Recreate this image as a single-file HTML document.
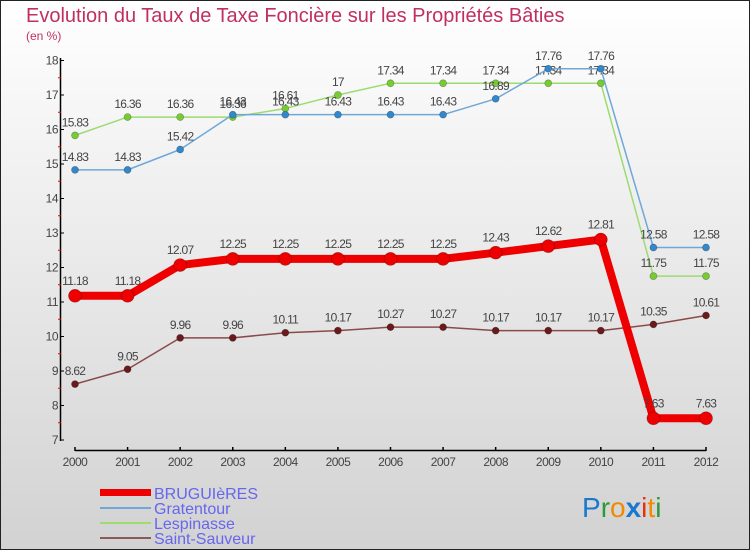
<!DOCTYPE html>
<html><head><meta charset="utf-8"><style>
html,body{margin:0;padding:0}
body{width:750px;height:550px;overflow:hidden;font-family:"Liberation Sans",sans-serif}
</style></head><body>
<svg width="750" height="550" xmlns="http://www.w3.org/2000/svg">
<defs><linearGradient id="bg" x1="0" y1="0" x2="0" y2="1"><stop offset="0" stop-color="#ffffff"/><stop offset="1" stop-color="#d2d2d2"/></linearGradient></defs>
<rect x="0.5" y="0.5" width="749" height="549" fill="url(#bg)" stroke="#222"/>
<text x="26" y="22" font-size="20" fill="#c0305f">Evolution du Taux de Taxe Foncière sur les Propriétés Bâties</text>
<text x="26" y="40" font-size="12" fill="#c0305f">(en %)</text>
<g id="axes"></g>
<g id="series"></g>
<g id="legend" font-size="16" fill="#6666ee">
<rect x="100" y="489" width="51" height="7" fill="#ee0000"/>
<text x="154" y="499">BRUGUIèRES</text>
<rect x="100" y="507" width="51" height="2" fill="#6fa8d8"/>
<text x="154" y="514">Gratentour</text>
<rect x="100" y="522" width="51" height="2" fill="#9cdc70"/>
<text x="154" y="529">Lespinasse</text>
<rect x="100" y="537" width="51" height="2" fill="#8a5a5a"/>
<text x="154" y="544">Saint-Sauveur</text>
</g>
<g font-size="28" font-family="'Liberation Sans',sans-serif">
<text x="582" y="517"><tspan fill="#1a78d0">P</tspan><tspan fill="#2a9a3a">r</tspan><tspan fill="#f08a00">o</tspan><tspan fill="#1a78d0" font-weight="bold">x</tspan><tspan fill="#e83010">i</tspan><tspan fill="#f08a00">t</tspan><tspan fill="#2a9a3a">i</tspan></text>
</g>
</svg>
<script>
const years=["2000","2001","2002","2003","2004","2005","2006","2007","2008","2009","2010","2011","2012"];
const yTicks=[7,8,9,10,11,12,13,14,15,16,17,18];
const bruguieres=[11.18,11.18,12.07,12.25,12.25,12.25,12.25,12.25,12.43,12.62,12.81,7.63,7.63];
const gratentour=[14.83,14.83,15.42,16.43,16.43,16.43,16.43,16.43,16.89,17.76,17.76,12.58,12.58];
const lespinasse=[15.83,16.36,16.36,16.36,16.61,17,17.34,17.34,17.34,17.34,17.34,11.75,11.75];
const saintSauveur=[8.62,9.05,9.96,9.96,10.11,10.17,10.27,10.27,10.17,10.17,10.17,10.35,10.61];
const NS="http://www.w3.org/2000/svg";
const x=i=>75+i*(706-75)/12;
const y=v=>440-(v-7)*(440-60.5)/11;
function mk(tag,attrs,parent){const e=document.createElementNS(NS,tag);for(const k in attrs)e.setAttribute(k,attrs[k]);parent.appendChild(e);return e;}
const ax=document.getElementById('axes');
let a=mk('line',{x1:60.5,y1:58,x2:60.5,y2:441,stroke:'#000','stroke-width':1.5},ax);


a=mk('line',{x1:75,y1:450.5,x2:706,y2:450.5,stroke:'#000','stroke-width':1.5},ax);


yTicks.forEach(v=>{
  mk('line',{x1:60,y1:y(v),x2:64,y2:y(v),stroke:'#000'},ax);
  if(v<18) mk('line',{x1:58,y1:y(v+0.5),x2:61,y2:y(v+0.5),stroke:'#e00'},ax);
  const t=mk('text',{x:58,y:y(v)+4,'font-size':12,fill:'#444','text-anchor':'end','letter-spacing':'-0.5'},ax);
  t.textContent=v;
  
  
});
years.forEach((yr,i)=>{
  mk('line',{x1:x(i),y1:447,x2:x(i),y2:451,stroke:'#000','stroke-width':1.5},ax);
  const t=mk('text',{x:x(i),y:466,'font-size':12,fill:'#444','text-anchor':'middle','letter-spacing':'-0.5'},ax);
  t.textContent=yr;
  
  
});
const sg=document.getElementById('series');
function series(name,vals,color,w,r,dot){
  const g=mk('g',{},sg);
  
  
  const pl=mk('polyline',{points:vals.map((v,i)=>x(i)+','+y(v)).join(' '),fill:'none',stroke:color,'stroke-width':w,'stroke-linejoin':'round'},g);
  
  
  vals.forEach((v,i)=>{
    const c=mk('circle',{cx:x(i),cy:y(v),r:r,fill:dot,stroke:'rgba(0,0,0,0.3)','stroke-width':0.7},g);
    
    
    const t=mk('text',{x:x(i),y:y(v)-9-(r>5?2:0),'font-size':12,fill:'#444','text-anchor':'middle','letter-spacing':'-0.7'},g);
    t.textContent=v;
    
    
  });
}
series('lespinasse',lespinasse,'#9cdc70',1.5,3.5,'#77cc33');
series('gratentour',gratentour,'#6fa8d8',1.5,3.5,'#3388cc');
series('saint-sauveur',saintSauveur,'#8a4a4a',1.5,3.5,'#6a1a1a');
series('bruguieres',bruguieres,'#ee0000',8,6.5,'#ee0000');
</script>
</body></html>
